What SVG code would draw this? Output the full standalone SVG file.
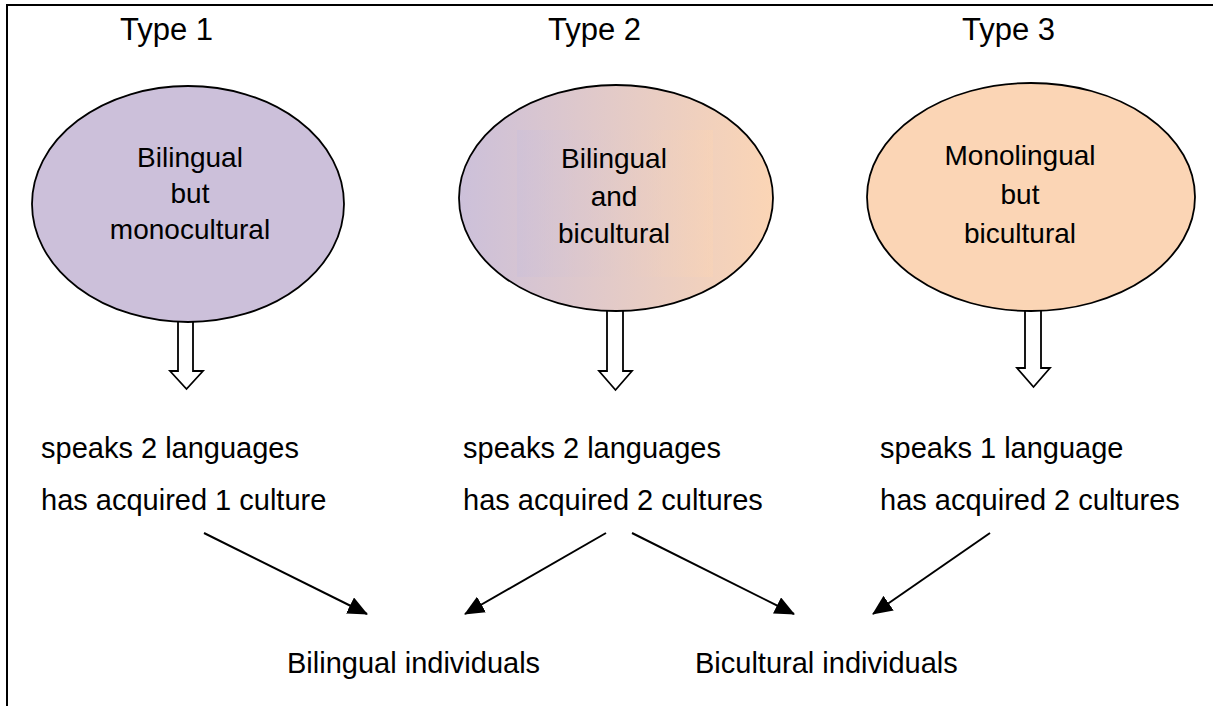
<svg xmlns="http://www.w3.org/2000/svg" width="1213" height="706" viewBox="0 0 1213 706">
  <defs>
    <linearGradient id="g2" gradientUnits="userSpaceOnUse" x1="459" y1="0" x2="773" y2="0">
      <stop offset="0" stop-color="#CCC0DA"/>
      <stop offset="1" stop-color="#FBD5B5"/>
    </linearGradient>
    <linearGradient id="g2b" gradientUnits="userSpaceOnUse" x1="517" y1="0" x2="713" y2="0">
      <stop offset="0" stop-color="#CBC0DA"/>
      <stop offset="1" stop-color="#FAD4B5"/>
    </linearGradient>
    <marker id="head" markerUnits="userSpaceOnUse" markerWidth="20" markerHeight="18" viewBox="0 0 20 18" refX="19" refY="9" orient="auto">
      <path d="M0,0 L20,9 L0,18 Z" fill="#000"/>
    </marker>
  </defs>
  <style>
    text { font-family: "Liberation Sans", Arial, sans-serif; fill: #000; }
    .type { font-size: 31px; }
    .inner { font-size: 28px; text-anchor: middle; }
    .desc { font-size: 29px; }
    .result { font-size: 29px; }
    .ell { stroke: #000; stroke-width: 1.8; }
    .hollow { fill: #fff; stroke: #000; stroke-width: 1.8; stroke-linejoin: miter; }
    .conn { stroke: #000; stroke-width: 2; fill: none; marker-end: url(#head); }
    .frame { stroke: #000; stroke-width: 2; fill: none; }
  </style>

  <g id="frame">
    <path class="frame" d="M7,706 V5 H1213"/>
  </g>

  <g id="type-labels">
    <text class="type" x="120" y="40">Type 1</text>
    <text class="type" x="548" y="40">Type 2</text>
    <text class="type" x="962" y="40">Type 3</text>
  </g>

  <g id="down-arrows">
    <path class="hollow" d="M178,250 V371 H170 L186.5,389 L203,371 H193 V250"/>
    <path class="hollow" d="M607,250 V371 H599 L615.5,390 L632,371 H623 V250"/>
    <path class="hollow" d="M1025,250 V368 H1017 L1033.5,387 L1050,368 H1041 V250"/>
  </g>

  <g id="node-type1">
    <ellipse class="ell" cx="188" cy="204" rx="156" ry="118" fill="#CCC0DA"/>
    <text class="inner" x="190" y="167">Bilingual</text>
    <text class="inner" x="190" y="203">but</text>
    <text class="inner" x="190" y="239">monocultural</text>
  </g>

  <g id="node-type2">
    <ellipse class="ell" cx="616" cy="198" rx="157" ry="113" fill="url(#g2)"/>
    <rect x="517" y="130" width="196" height="147" fill="url(#g2b)" opacity="0.5"/>
    <text class="inner" x="614" y="168">Bilingual</text>
    <text class="inner" x="614" y="206">and</text>
    <text class="inner" x="614" y="243">bicultural</text>
  </g>

  <g id="node-type3">
    <ellipse class="ell" cx="1031" cy="197" rx="164" ry="114" fill="#FBD5B5"/>
    <text class="inner" x="1020" y="165">Monolingual</text>
    <text class="inner" x="1020" y="204">but</text>
    <text class="inner" x="1020" y="243">bicultural</text>
  </g>

  <g id="desc-type1">
    <text class="desc" x="41" y="458">speaks 2 languages</text>
    <text class="desc" x="41" y="510">has acquired 1 culture</text>
  </g>
  <g id="desc-type2">
    <text class="desc" x="463" y="458">speaks 2 languages</text>
    <text class="desc" x="463" y="510">has acquired 2 cultures</text>
  </g>
  <g id="desc-type3">
    <text class="desc" x="880" y="458">speaks 1 language</text>
    <text class="desc" x="880" y="510">has acquired 2 cultures</text>
  </g>

  <g id="result-bilingual">
    <text class="result" x="287" y="673">Bilingual individuals</text>
  </g>
  <g id="result-bicultural">
    <text class="result" x="695" y="673">Bicultural individuals</text>
  </g>

  <g id="connectors">
    <line class="conn" x1="204" y1="533" x2="367" y2="614"/>
    <line class="conn" x1="606" y1="533" x2="465" y2="614"/>
    <line class="conn" x1="632" y1="533" x2="794" y2="614"/>
    <line class="conn" x1="990" y1="533" x2="873" y2="614"/>
  </g>
</svg>
